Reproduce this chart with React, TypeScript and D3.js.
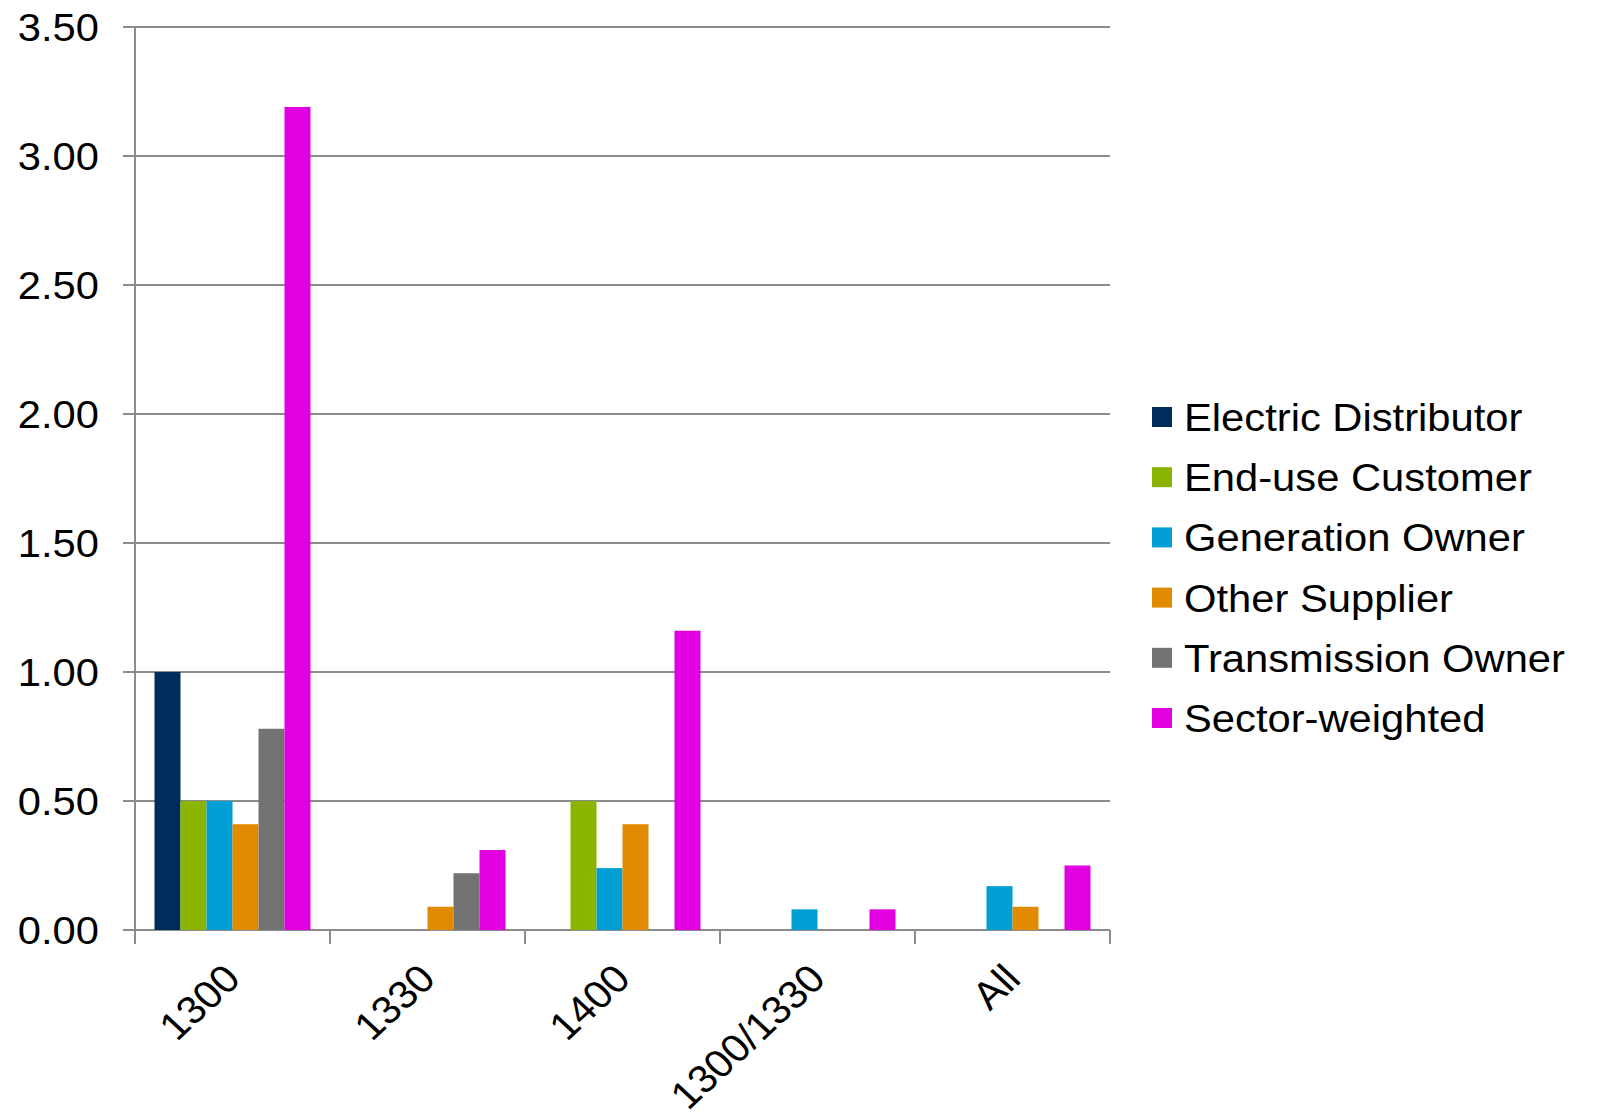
import React from "react";
import * as d3 from "d3";

const categories = ["1300", "1330", "1400", "1300/1330", "All"];
const seriesNames = [
  "Electric Distributor",
  "End-use Customer",
  "Generation Owner",
  "Other Supplier",
  "Transmission Owner",
  "Sector-weighted",
];
const seriesColors = ["#002C5C", "#8BB400", "#009FD6", "#E28A00", "#737373", "#E000E0"];
const electricDistributor = [1.0, 0, 0, 0, 0];
const endUseCustomer = [0.5, 0, 0.5, 0, 0];
const generationOwner = [0.5, 0, 0.24, 0.08, 0.17];
const otherSupplier = [0.41, 0.09, 0.41, 0, 0.09];
const transmissionOwner = [0.78, 0.22, 0, 0, 0];
const sectorWeighted = [3.19, 0.31, 1.16, 0.08, 0.25];
const seriesValues = [
  electricDistributor,
  endUseCustomer,
  generationOwner,
  otherSupplier,
  transmissionOwner,
  sectorWeighted,
];
const yTicks = [0, 0.5, 1.0, 1.5, 2.0, 2.5, 3.0, 3.5];

const W = 1598;
const H = 1118;
const left = 135;
const right = 1110;
const top = 27;
const bottom = 930;
const FONT = "'Liberation Sans', Arial, sans-serif";
const SX = 1.07;

export default function App() {
  const x = d3.scaleBand<string>().domain(categories).range([left, right]).paddingInner(0).paddingOuter(0);
  const y = d3.scaleLinear().domain([0, 3.5]).range([bottom, top]);
  const bw = x.bandwidth() / 7.5;
  const inner = d3
    .scaleBand<string>()
    .domain(seriesNames)
    .range([bw * 0.75, x.bandwidth() - bw * 0.75])
    .padding(0);

  return (
    <svg
      width={W}
      height={H}
      style={{ position: "absolute", left: 0, top: 0, background: "#fff" }}
      fontFamily={FONT}
    >
      {/* gridlines */}
      {yTicks.map((t) => (
        <line
          key={"g" + t}
          x1={left - 12}
          x2={right}
          y1={y(t)}
          y2={y(t)}
          stroke="#8C8C8C"
          strokeWidth={2}
        />
      ))}
      {/* y axis */}
      <line x1={left} x2={left} y1={top} y2={bottom} stroke="#8C8C8C" strokeWidth={2} />
      {/* x tick marks */}
      {[...categories.map((c) => x(c) as number), right].map((px, i) => (
        <line key={"xt" + i} x1={px} x2={px} y1={bottom} y2={bottom + 14} stroke="#8C8C8C" strokeWidth={2} />
      ))}
      {/* bars */}
      {seriesValues.map((vals, si) =>
        vals.map((v, ci) =>
          v > 0 ? (
            <rect
              key={si + "-" + ci}
              x={(x(categories[ci]) as number) + (inner(seriesNames[si]) as number)}
              width={inner.bandwidth()}
              y={y(v)}
              height={y(0) - y(v)}
              fill={seriesColors[si]}
            />
          ) : null
        )
      )}
      {/* y labels */}
      {yTicks.map((t) => (
        <text
          key={"yl" + t}
          transform={`translate(99 ${y(t)}) scale(${SX} 1)`}
          dy="0.36em"
          textAnchor="end"
          fontSize={39}
          fill="#000"
        >
          {t.toFixed(2)}
        </text>
      ))}
      {/* x labels */}
      {categories.map((c) => {
        const cx = (x(c) as number) + x.bandwidth() / 2 + 10;
        const cy = 981;
        return (
          <text
            key={"xl" + c}
            transform={`translate(${cx} ${cy}) scale(${SX} 1) rotate(-45)`}
            textAnchor="end"
            fontSize={39}
            fill="#000"
          >
            {c}
          </text>
        );
      })}
      {/* legend */}
      {seriesNames.map((n, i) => {
        const ly = 417 + i * 60.2;
        return (
          <g key={"lg" + n}>
            <rect x={1152} y={ly - 10} width={20} height={20} fill={seriesColors[i]} />
            <text
              transform={`translate(1184 ${ly}) scale(${SX} 1)`}
              dy="0.36em"
              fontSize={39}
              fill="#000"
            >
              {n}
            </text>
          </g>
        );
      })}
    </svg>
  );
}
